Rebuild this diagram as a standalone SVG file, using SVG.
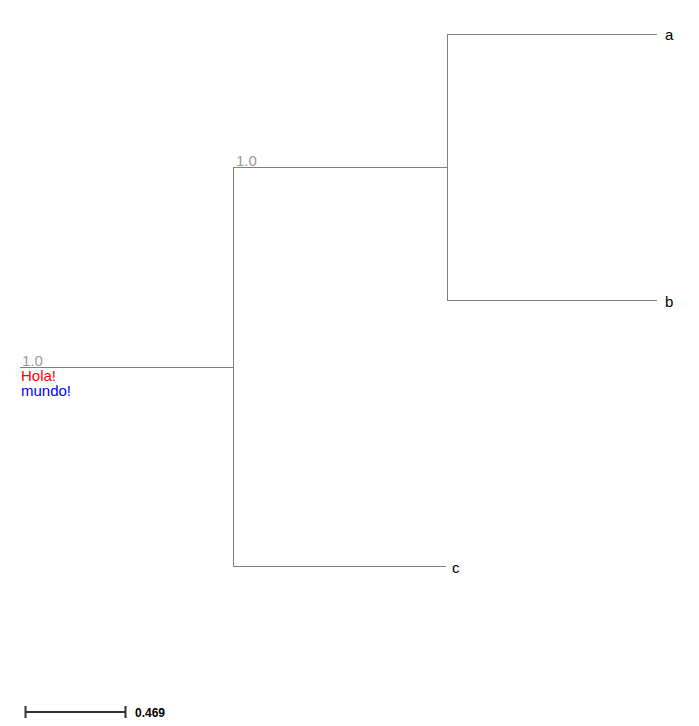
<svg xmlns="http://www.w3.org/2000/svg" width="699" height="726" viewBox="0 0 699 726">
<style>
.br{stroke:#808080;stroke-width:1;fill:none}
.lf{font-family:"Liberation Sans",Arial,sans-serif;font-size:15px;fill:#000}
.sup{font-family:"Liberation Sans",Arial,sans-serif;font-size:15px;fill:#999}
.fc{font-family:"Liberation Sans",Arial,sans-serif;font-size:15px}
</style>
<rect width="699" height="726" fill="#fff"/>
<g id="connectors">
<path class="br" d="M20,367.5H233.5"/>
<path class="br" d="M233.5,167V567"/>
<path class="br" d="M233.5,167.5H447.5"/>
<path class="br" d="M233.5,566.5H446"/>
<path class="br" d="M447.5,34V301"/>
<path class="br" d="M447.5,34.5H657"/>
<path class="br" d="M447.5,300.5H657"/>
</g>
<g id="root">
<text class="sup" x="22" y="366">1.0</text>
<text class="fc" x="21" y="381" fill="#ff0000">Hola!</text>
<text class="fc" x="21" y="396" fill="#0000ff">mundo!</text>
</g>
<g id="inner">
<text class="sup" x="236" y="166">1.0</text>
</g>
<g id="leaf-a"><text class="lf" x="665" y="40">a</text></g>
<g id="leaf-b"><text class="lf" x="665" y="307">b</text></g>
<g id="leaf-c"><text class="lf" x="452" y="573">c</text></g>
<g id="scale">
<path d="M25,712H125M25.5,706V718M125.5,706V718" stroke="#333" stroke-width="2" fill="none"/>
<text x="135" y="717" font-family="Liberation Sans,Arial,sans-serif" font-size="12" font-weight="bold" fill="#000">0.469</text>
</g>
</svg>
